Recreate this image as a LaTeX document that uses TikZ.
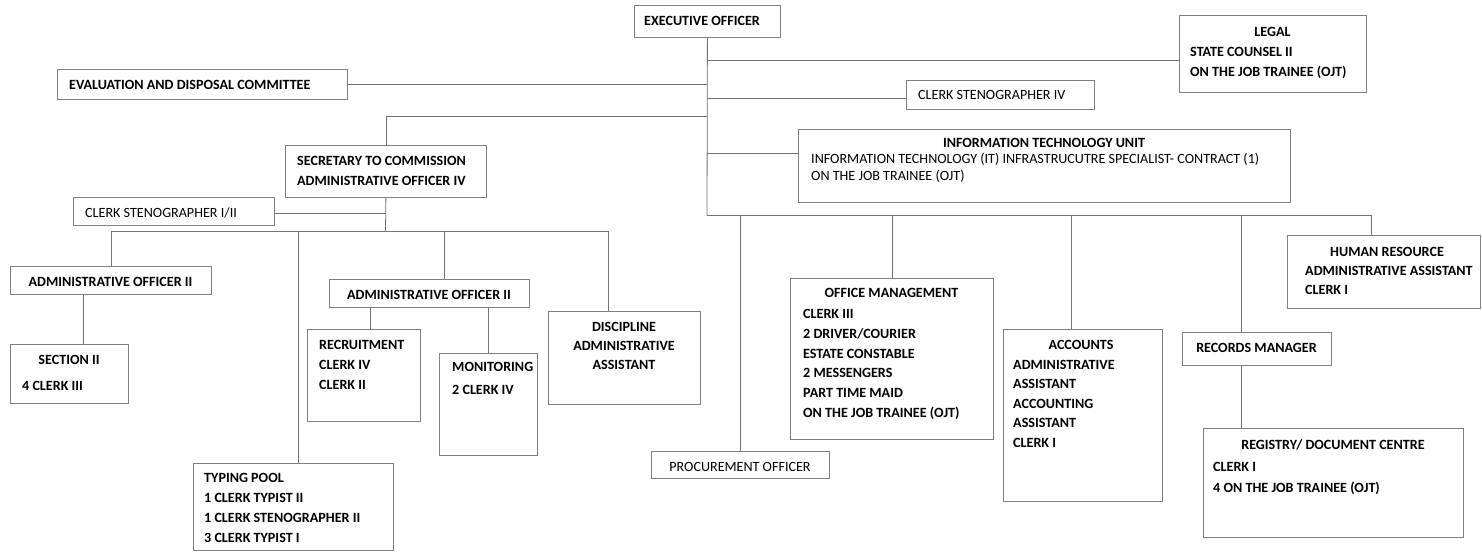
\documentclass[tikz,border=0pt]{standalone}
\usepackage{fontspec}
\setmainfont{Carlito}
\usetikzlibrary{calc}
\newcommand\bx[5]{\node[box,minimum width=#4,minimum height=#5] (#1) at (#2,#3) {};}
\newcommand\lns[6]{\foreach \t [count=\i] in {#6} \node[lt,#2] (#1-\i) at (#3,#4+#5*\i-#5) {\t};}
\begin{document}
\begin{tikzpicture}[x=1pt,y=-1pt,
  box/.style={draw=black!50,line width=0.8pt,inner sep=0pt,anchor=north west},
  conn/.style={draw=black!55,line width=0.8pt},
  lt/.style={anchor=base west,inner sep=0pt,font=\fontsize{14.1}{16}\selectfont},
  b/.style={font=\fontsize{14.1}{16}\selectfont\bfseries},
  ct/.style={anchor=base,inner sep=0pt,font=\fontsize{14.1}{16}\selectfont\bfseries}]
\useasboundingbox (0,0) rectangle (1482,552);
\fill[white] (0,0) rectangle (1482,552);
% boxes
\bx{exec}{634}{5}{146}{32}
\bx{eval}{57}{69}{290}{30}
\bx{legal}{1179}{15}{187}{77}
\bx{st4}{906}{80}{188}{29}
\bx{it}{798}{129}{492}{73}
\bx{sec}{285}{145}{201}{52}
\bx{c12}{73}{197}{201}{28}
\bx{a2l}{10}{266}{201}{28}
\bx{s2}{10}{344}{118}{59}
\bx{a2m}{329}{279}{200}{28}
\bx{rec}{307}{329}{113}{92}
\bx{mon}{439}{353}{98}{102}
\bx{disc}{548}{311}{152}{93}
\bx{typ}{193}{463}{200}{87}
\bx{proc}{651}{451}{178}{27}
\bx{om}{790}{278}{203}{161}
\bx{acc}{1003}{329}{159}{172}
\bx{rm}{1182}{332}{149}{33}
\bx{reg}{1203}{428}{260}{109}
\bx{hr}{1287}{235}{193}{73}
% texts
\node[lt,b] (exect) at (644,25.5) {EXECUTIVE OFFICER};
\node[lt,b] (evalt) at (69,89.5) {EVALUATION AND DISPOSAL COMMITTEE};
\node[ct] (legalh) at (1272.5,36.5) {LEGAL};
\lns{legalt}{b}{1190}{56.5}{19.5}{STATE COUNSEL II,ON THE JOB TRAINEE (OJT)}
\node[lt] (st4t) at (918,99) {CLERK STENOGRAPHER IV};
\node[ct] (ith) at (1044,147.5) {INFORMATION TECHNOLOGY UNIT};
\lns{itt}{}{811}{163.5}{17}{INFORMATION TECHNOLOGY (IT) INFRASTRUCUTRE SPECIALIST- CONTRACT (1),ON THE JOB TRAINEE (OJT)}
\lns{sect}{b}{297}{165.5}{20}{SECRETARY TO COMMISSION,ADMINISTRATIVE OFFICER IV}
\node[lt] (c12t) at (85,217.5) {CLERK STENOGRAPHER I/II};
\node[ct] (a2lt) at (110.5,286.5) {ADMINISTRATIVE OFFICER II};
\node[ct] (s2h) at (69,364.5) {SECTION II};
\node[lt,b] (s2t) at (22,390.5) {4 CLERK III};
\node[ct] (a2mt) at (429,299.5) {ADMINISTRATIVE OFFICER II};
\lns{rect}{b}{319}{349.5}{20}{RECRUITMENT,CLERK IV,CLERK II}
\lns{mont}{b}{452}{371.5}{23}{MONITORING,2 CLERK IV}
\lns{disct}{ct}{624}{331.5}{19}{DISCIPLINE,ADMINISTRATIVE,ASSISTANT}
\lns{typt}{b}{204}{482.5}{20}{TYPING POOL,1 CLERK TYPIST II,1 CLERK STENOGRAPHER II,3 CLERK TYPIST I}
\node[lt,anchor=base] (proct) at (740,471) {PROCUREMENT OFFICER};
\node[ct] (omh) at (891.5,297.5) {OFFICE MANAGEMENT};
\lns{omt}{b}{803}{318.5}{19.8}{CLERK III,2 DRIVER/COURIER,ESTATE CONSTABLE,2 MESSENGERS,PART TIME MAID,ON THE JOB TRAINEE (OJT)}
\node[ct] (acch) at (1081,349.5) {ACCOUNTS};
\lns{acct}{b}{1013}{369}{19.5}{ADMINISTRATIVE,ASSISTANT,ACCOUNTING,ASSISTANT,CLERK I}
\node[ct] (rmt) at (1256.5,352.5) {RECORDS MANAGER};
\node[ct] (regh) at (1333,449.5) {REGISTRY/ DOCUMENT CENTRE};
\lns{regt}{b}{1213}{471.5}{21}{CLERK I,4 ON THE JOB TRAINEE (OJT)}
\node[ct] (hrh) at (1387,256.5) {HUMAN RESOURCE};
\lns{hrt}{b}{1305}{275.5}{18.5}{ADMINISTRATIVE ASSISTANT,CLERK I}
% connectors: executive officer
\coordinate (J0) at (707,215);
\draw[conn] (exec.south) -- (J0);
\draw[conn] (eval.east) -- (eval.east -| J0);
\coordinate (Jl) at (707,60);
\draw[conn] (Jl) -- (Jl -| legal.west);
\coordinate (Js4) at (707,98);
\draw[conn] (Js4) -- (Js4 -| st4.west);
\coordinate (Jsc) at (707,116);
\draw[conn] (Jsc) -| (sec.north);
\coordinate (Jit) at (707,153);
\draw[conn] (Jit) -- (Jit -| it.west);
\coordinate (Jhr) at (1371,215);
\draw[conn] (J0) -- (Jhr) -- (Jhr |- hr.north);
\draw[conn] (proc.north |- J0) -- (proc.north);
\draw[conn] (om.north |- J0) -- (om.north);
\coordinate (Jacc) at (1071,215);
\draw[conn] (Jacc) -- (Jacc |- acc.north);
\coordinate (Jrm) at (1241,215);
\draw[conn] (Jrm) -- (Jrm |- rm.north);
\draw[conn] (Jrm |- rm.south) -- (Jrm |- reg.north);
% connectors: secretary
\coordinate (Jb) at (385.5,231);
\draw[conn] (sec.south) -- (Jb);
\coordinate (Jc) at (385.5,213);
\draw[conn] (Jc) -- (Jc -| c12.east);
\coordinate (Jd) at (608,231);
\draw[conn] (a2l.north) |- (Jd) -- (Jd |- disc.north);
\coordinate (Jt) at (298,231);
\draw[conn] (Jt) -- (Jt |- typ.north);
\coordinate (Ja) at (444,231);
\draw[conn] (Ja) -- (Ja |- a2m.north);
\coordinate (Xs2) at (83,300);
\draw[conn] (Xs2 |- a2l.south) -- (Xs2 |- s2.north);
\coordinate (Xr) at (370,310);
\draw[conn] (Xr |- a2m.south) -- (Xr |- rec.north);
\draw[conn] (a2m.south -| mon.north) -- (mon.north);
\end{tikzpicture}
\end{document}
